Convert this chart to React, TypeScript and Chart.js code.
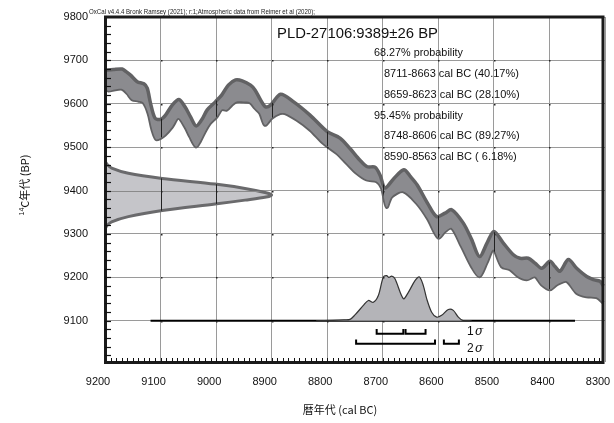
import React, { useEffect, useRef } from "react";
import { Chart, registerables } from "chart.js";

Chart.register(...registerables);

// ---------- data ----------
const xTickValues = [9200, 9100, 9000, 8900, 8800, 8700, 8600, 8500, 8400, 8300];
const yTickValues = [9100, 9200, 9300, 9400, 9500, 9600, 9700, 9800];

// calibration curve (upper edge of band)
const curveUpperYears = [9200, 9185, 9169, 9162, 9154, 9142, 9130, 9124, 9118, 9110, 9100, 9091, 9079, 9067, 9056, 9046, 9036, 9026, 9016, 9001, 8990, 8978, 8965, 8953, 8938, 8930, 8920, 8911, 8902, 8884, 8861, 8831, 8800, 8777, 8759, 8741, 8728, 8714, 8705, 8696, 8680, 8662, 8650, 8638, 8619, 8603, 8588, 8576, 8555, 8540, 8526, 8512, 8500, 8483, 8465, 8453, 8438, 8426, 8414, 8399, 8390, 8381, 8366, 8351, 8333, 8321, 8309, 8303];
const curveUpperBP = [9677, 9679, 9680, 9674, 9666, 9651, 9646, 9636, 9601, 9567, 9564, 9574, 9597, 9610, 9593, 9570, 9549, 9563, 9586, 9605, 9620, 9643, 9655, 9653, 9643, 9632, 9609, 9593, 9597, 9622, 9605, 9574, 9536, 9521, 9497, 9470, 9455, 9454, 9436, 9406, 9428, 9448, 9432, 9413, 9370, 9340, 9348, 9356, 9325, 9287, 9248, 9280, 9306, 9279, 9252, 9244, 9244, 9233, 9221, 9237, 9225, 9214, 9241, 9221, 9202, 9195, 9191, 9180];
// calibration curve (lower edge of band)
const curveLowerYears = [9200, 9194, 9182, 9169, 9160, 9151, 9140, 9131, 9122, 9115, 9108, 9100, 9092, 9079, 9068, 9056, 9047, 9036, 9029, 9020, 9011, 8999, 8990, 8981, 8972, 8963, 8951, 8939, 8930, 8921, 8912, 8900, 8885, 8876, 8855, 8831, 8807, 8783, 8765, 8747, 8729, 8711, 8702, 8693, 8684, 8663, 8639, 8619, 8600, 8588, 8576, 8558, 8540, 8526, 8513, 8501, 8486, 8471, 8456, 8441, 8426, 8414, 8399, 8387, 8369, 8351, 8333, 8315, 8303];
const curveLowerBP = [9636, 9630, 9633, 9634, 9624, 9610, 9607, 9603, 9578, 9540, 9518, 9521, 9528, 9547, 9567, 9547, 9524, 9501, 9513, 9536, 9555, 9570, 9587, 9586, 9597, 9605, 9605, 9603, 9590, 9578, 9551, 9567, 9578, 9578, 9563, 9540, 9509, 9486, 9463, 9440, 9425, 9421, 9406, 9362, 9386, 9398, 9371, 9335, 9291, 9306, 9314, 9271, 9225, 9202, 9233, 9264, 9225, 9218, 9202, 9195, 9202, 9183, 9172, 9183, 9191, 9164, 9156, 9154, 9141];

// measured radiocarbon date (9389 ± 26 BP) drawn on the BP axis
const dateBP = [9468, 9460, 9452, 9440, 9428, 9415, 9405, 9395, 9390, 9385, 9378, 9369, 9354, 9340, 9328, 9320, 9312];
const dateSpreadYears = [9200, 9196, 9188, 9158, 9097, 9002, 8948, 8910, 8900, 8910, 8948, 9002, 9097, 9158, 9188, 9196, 9200];

// calibrated probability distribution (relative)
const postYears = [8820, 8790, 8770, 8759, 8750, 8735, 8726, 8717, 8708, 8699, 8693, 8689, 8684, 8678, 8663, 8654, 8642, 8634, 8627, 8621, 8612, 8603, 8594, 8582, 8573, 8564, 8555, 8540];
const postProb = [0, 0.01, 0.02, 0.03, 0.13, 0.34, 0.45, 0.41, 0.56, 0.97, 1.0, 0.96, 0.99, 0.93, 0.49, 0.63, 0.89, 0.97, 0.78, 0.49, 0.19, 0.08, 0.12, 0.25, 0.23, 0.08, 0, 0];
const postLineYears = [9118, 8354];

const sigma1From = [8711, 8659];
const sigma1To = [8663, 8623];
const sigma1Prob = [40.17, 28.1];
const sigma2From = [8748, 8590];
const sigma2To = [8606, 8563];
const sigma2Prob = [89.27, 6.18];

const sampleLabel = "PLD-27106:9389±26 BP";
const headerLabel = "OxCal v4.4.4 Bronk Ramsey (2021); r:1;Atmospheric data from Reimer et al (2020);";

// ---------- layout constants ----------
const BASE_BP = 9100;
const POST_HEIGHT = 104;
const S1_BASE = 9070, S1_TOP = 9081;
const S2_BASE = 9047, S2_TOP = 9057;

const pts = (xs: number[], ys: number[]) => xs.map((x, i) => ({ x, y: ys[i] }));
const bracket = (a: number, b: number, base: number, top: number) => [
  { x: a, y: top }, { x: a, y: base }, { x: b, y: base }, { x: b, y: top },
];

const rangeText = (f: number, t: number, p: number) =>
  `${f}-${t} cal BC (${p.toFixed(2).padStart(5, " ")}%)`;

const overlay = {
  id: "overlay",
  afterDatasetsDraw(chart: any) {
    const { ctx, chartArea: a, scales } = chart;
    const x = scales.x, y = scales.y;
    const up = chart.getDatasetMeta(0).data;
    const lo = chart.getDatasetMeta(1).data;
    const g = chart.getDatasetMeta(2).data;
    // dark verticals inside the calibration band
    ctx.save();
    ctx.beginPath();
    up.forEach((p: any, i: number) => (i ? ctx.lineTo(p.x, p.y) : ctx.moveTo(p.x, p.y)));
    for (let i = lo.length - 1; i >= 0; i--) ctx.lineTo(lo[i].x, lo[i].y);
    ctx.closePath();
    ctx.clip();
    ctx.strokeStyle = "#222";
    ctx.lineWidth = 1;
    xTickValues.forEach((v) => {
      const px = Math.round(x.getPixelForValue(v)) + 0.5;
      ctx.beginPath(); ctx.moveTo(px, a.top); ctx.lineTo(px, a.bottom); ctx.stroke();
    });
    ctx.restore();
    // inside gaussian
    ctx.save();
    ctx.beginPath();
    g.forEach((p: any, i: number) => (i ? ctx.lineTo(p.x, p.y) : ctx.moveTo(p.x, p.y)));
    ctx.closePath();
    ctx.clip();
    ctx.lineWidth = 1;
    ctx.strokeStyle = "#222";
    xTickValues.forEach((v) => {
      const px = Math.round(x.getPixelForValue(v)) + 0.5;
      ctx.beginPath(); ctx.moveTo(px, a.top); ctx.lineTo(px, a.bottom); ctx.stroke();
    });
    ctx.strokeStyle = "#8a8a8a";
    yTickValues.forEach((v) => {
      const py = Math.round(y.getPixelForValue(v)) + 0.5;
      ctx.beginPath(); ctx.moveTo(a.left, py); ctx.lineTo(a.right, py); ctx.stroke();
    });
    ctx.restore();
    // grid intersection dots
    ctx.save();
    ctx.fillStyle = "#222";
    xTickValues.forEach((xv) => {
      yTickValues.forEach((yv) => {
        const px = Math.round(x.getPixelForValue(xv));
        const py = Math.round(y.getPixelForValue(yv));
        if (px > a.left + 2 && px < a.right - 3 && py > a.top + 2) ctx.fillRect(px, py, 1.5, 1.5);
      });
    });
    ctx.restore();
  },
  afterDraw(chart: any) {
    const { ctx, chartArea: a, scales } = chart;
    const x = scales.x, y = scales.y;
    ctx.save();
    // frame
    ctx.strokeStyle = "#1a1a1a";
    ctx.lineWidth = 3;
    ctx.beginPath();
    ctx.moveTo(a.left + 0.5, a.top); ctx.lineTo(a.right - 2, a.top);
    ctx.lineTo(a.right - 2, a.bottom + 0.5); ctx.lineTo(a.left + 0.5, a.bottom + 0.5);
    ctx.closePath();
    ctx.stroke();
    // minor ticks on BP axis
    ctx.lineWidth = 1.2;
    ctx.strokeStyle = "#111";
    for (let v = 9020; v < 9800; v += 20) {
      const py = Math.round(y.getPixelForValue(v)) + 0.5;
      ctx.beginPath(); ctx.moveTo(a.left, py); ctx.lineTo(a.left + 6, py); ctx.stroke();
    }
    // minor ticks on cal BC axis
    ctx.lineWidth = 1;
    for (let v = 9190; v > 8300; v -= 10) {
      const px = Math.round(x.getPixelForValue(v)) + 0.5;
      ctx.beginPath(); ctx.moveTo(px, a.bottom); ctx.lineTo(px, a.bottom - 4); ctx.stroke();
    }
    // texts
    ctx.fillStyle = "#222";
    ctx.textBaseline = "middle";
    ctx.textAlign = "left";
    ctx.font = '7px "Liberation Sans"';
    ctx.fillText(headerLabel, 89, 12, 226);
    ctx.fillStyle = "#111";
    ctx.font = '15px "Liberation Sans"';
    ctx.fillText(sampleLabel, 277, 34, 161);
    ctx.font = '11px "Liberation Sans"';
    ctx.fillText("68.27% probability", 374, 53, 89);
    sigma1From.forEach((f, i) => ctx.fillText(rangeText(f, sigma1To[i], sigma1Prob[i]), 384, 74 + i * 20.5, 138));
    ctx.fillText("95.45% probability", 374, 115.5, 89);
    sigma2From.forEach((f, i) => ctx.fillText(rangeText(f, sigma2To[i], sigma2Prob[i]), 384, 136 + i * 20.5, 138));
    ctx.font = '12px "Liberation Sans"';
    ctx.fillText("1", 467, 332);
    ctx.fillText("2", 467, 348.5);
    ctx.font = 'italic 12px "DejaVu Serif"';
    ctx.fillText("σ", 475, 332);
    ctx.fillText("σ", 475, 348.5);
    // axis titles
    ctx.fillStyle = "#111";
    ctx.font = '11px "Noto Sans CJK JP"';
    ctx.textAlign = "center";
    ctx.fillText("暦年代 (cal BC)", 340, 410);
    ctx.translate(25, 185);
    ctx.rotate(-Math.PI / 2);
    ctx.textAlign = "left";
    ctx.font = '7px "Liberation Sans"';
    const wSup = ctx.measureText("14").width;
    ctx.font = '11px "Noto Sans CJK JP"';
    const main = "C年代 (BP)";
    const wMain = ctx.measureText(main).width;
    const start = -(wSup + wMain) / 2;
    ctx.fillText(main, start + wSup, 0);
    ctx.font = '7px "Liberation Sans"';
    ctx.fillText("14", start, -3);
    ctx.restore();
  },
};

export default function App() {
  const ref = useRef<HTMLCanvasElement | null>(null);
  useEffect(() => {
    if (!ref.current) return;
    const tickFont = { family: '"Liberation Sans", Arial, sans-serif', size: 11 };
    const chart = new Chart(ref.current, {
      type: "line",
      data: {
        datasets: [
          {
            data: pts(curveUpperYears, curveUpperBP),
            borderColor: "#626264", borderWidth: 3.5, backgroundColor: "#8b8b8f",
            fill: "+1", pointRadius: 0, tension: 0.3,
          } as any,
          {
            data: pts(curveLowerYears, curveLowerBP),
            borderColor: "#626264", borderWidth: 3.5, fill: false, pointRadius: 0, tension: 0.3,
          },
          {
            indexAxis: "y",
            data: dateBP.map((b, i) => ({ x: dateSpreadYears[i], y: b })),
            borderColor: "#6a6a6c", borderWidth: 3, backgroundColor: "#c5c5c9",
            fill: { value: 9200 }, pointRadius: 0, tension: 0.3,
          },
          {
            data: postYears.map((yr, i) => ({ x: yr, y: BASE_BP + postProb[i] * POST_HEIGHT })),
            borderColor: "#333", borderWidth: 1.2, backgroundColor: "#b4b4b8",
            fill: { value: BASE_BP }, pointRadius: 0, tension: 0.3,
          },
          {
            data: postLineYears.map((yr) => ({ x: yr, y: BASE_BP })),
            borderColor: "#000", borderWidth: 2, pointRadius: 0, fill: false,
          },
          ...sigma1From.map((f, i) => ({
            data: bracket(f, sigma1To[i], S1_BASE, S1_TOP),
            borderColor: "#000", borderWidth: 2, pointRadius: 0, fill: false, tension: 0,
          })),
          ...sigma2From.map((f, i) => ({
            data: bracket(f, sigma2To[i], S2_BASE, S2_TOP),
            borderColor: "#000", borderWidth: 2, pointRadius: 0, fill: false, tension: 0,
          })),
        ] as any,
      },
      options: {
        responsive: false,
        animation: false,
        devicePixelRatio: 1,
        layout: { padding: { left: 0, top: 17, right: 9, bottom: 0 } },
        plugins: { legend: { display: false }, tooltip: { enabled: false }, title: { display: false } },
        events: [],
        scales: {
          x: {
            type: "linear", reverse: true, min: 8300, max: 9200,
            afterBuildTicks: (s: any) => { s.ticks = xTickValues.map((v) => ({ value: v })); },
            afterFit: (s: any) => { s.height = 61; s.paddingLeft = 0; s.paddingRight = 0; },
            grid: { color: "#9a9a9a", lineWidth: 1, drawTicks: false },
            border: { display: false },
            ticks: { padding: 13, labelOffset: -7, autoSkip: false, maxRotation: 0, font: tickFont, color: "#111", callback: (v: any) => String(v) },
          },
          y: {
            type: "linear", min: 9005, max: 9800,
            afterBuildTicks: (s: any) => { s.ticks = yTickValues.map((v) => ({ value: v })); },
            afterFit: (s: any) => { s.width = 105; s.paddingTop = 0; s.paddingBottom = 0; },
            grid: { color: "#9a9a9a", lineWidth: 1, drawTicks: false },
            border: { display: false },
            ticks: { padding: 17, autoSkip: false, font: tickFont, color: "#111", callback: (v: any) => String(v) },
          },
        },
      } as any,
      plugins: [overlay],
    });
    return () => chart.destroy();
  }, []);
  return (
    <div style={{ position: "fixed", left: 0, top: 0, width: 614, height: 423, background: "#fff" }}>
      <canvas ref={ref} width={614} height={423} style={{ display: "block", width: 614, height: 423 }} />
    </div>
  );
}
